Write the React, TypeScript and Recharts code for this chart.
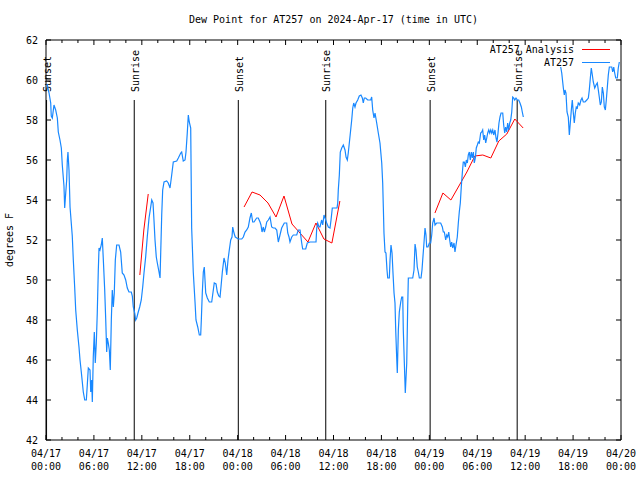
import React from "react";
import { LineChart, Line, XAxis, YAxis, ReferenceLine, ReferenceArea } from "recharts";

const FONT = "'DejaVu Sans Mono', 'Liberation Mono', monospace";
const BLUE = "#1888ff";
const RED = "#ff0000";

// hours since 04/17 00:00 UTC
const obsHours = [
  0.13, 0.38, 0.59, 0.66, 0.79, 1.0, 1.21, 1.42, 1.54, 1.75, 1.92, 2.04, 2.25, 2.34, 2.47, 2.59, 2.67, 2.75, 2.88, 3.01,
  3.29, 3.42, 3.59, 3.72, 3.92, 4.13, 4.26, 4.42, 4.67, 4.85, 5.05, 5.17, 5.3, 5.51, 5.6, 5.72, 5.8, 5.92, 6.05, 6.17,
  6.3, 6.42, 6.55, 6.64, 6.76, 6.92, 7.05, 7.18, 7.35, 7.48, 7.6, 7.68, 7.8, 7.93, 8.05, 8.18, 8.3, 8.43, 8.55, 8.68,
  8.85, 9.14, 9.35, 9.55, 9.77, 9.98, 10.18, 10.39, 10.68, 10.81, 10.93, 11.11, 11.23, 11.36, 11.52, 11.73, 11.93, 12.11, 12.27, 12.48,
  12.68, 12.9, 13.11, 13.24, 13.4, 13.52, 13.65, 13.81, 13.94, 14.15, 14.28, 14.49, 14.61, 14.78, 15.11, 15.31, 15.53, 15.74, 15.94, 16.37,
  16.57, 16.87, 16.99, 17.19, 17.41, 17.53, 17.69, 17.82, 17.94, 18.12, 18.24, 18.44, 18.66, 18.78, 19.0, 19.2, 19.37, 19.45, 19.57, 19.7,
  19.82, 20.0, 20.2, 20.45, 20.75, 20.95, 21.07, 21.29, 21.45, 21.63, 21.79, 21.91, 22.08, 22.29, 22.45, 22.63, 22.79, 22.95, 23.13, 23.29,
  23.38, 23.54, 23.7, 24.08, 24.51, 24.71, 24.92, 25.13, 25.33, 25.54, 25.71, 25.88, 26.05, 26.21, 26.38, 26.58, 26.8, 26.92, 27.05, 27.21,
  27.34, 27.51, 27.64, 27.84, 28.05, 28.26, 28.46, 28.68, 28.89, 29.09, 29.3, 29.51, 29.84, 30.14, 30.27, 30.43, 30.55, 30.77, 30.97, 31.39,
  31.59, 31.81, 32.02, 32.14, 32.52, 32.72, 33.06, 33.81, 33.9, 34.02, 34.19, 34.31, 34.52, 34.65, 34.81, 34.94, 35.15, 35.35, 35.56, 35.69,
  35.85, 36.44, 36.53, 36.6, 36.73, 36.85, 37.03, 37.23, 37.44, 37.57, 37.73, 37.85, 37.98, 38.15, 38.28, 38.41, 38.53, 38.69, 38.82, 39.03,
  39.23, 39.44, 39.61, 39.73, 39.86, 40.03, 40.28, 40.66, 40.78, 40.91, 41.07, 41.2, 41.41, 41.61, 41.82, 42.04, 42.16, 42.24, 42.32, 42.45,
  42.57, 42.7, 42.79, 42.99, 43.08, 43.2, 43.33, 43.45, 43.58, 43.7, 43.79, 43.91, 43.99, 44.12, 44.24, 44.42, 44.54, 44.67, 44.74, 44.87,
  44.99, 45.17, 45.29, 45.37, 45.92, 46.08, 46.21, 46.33, 46.49, 46.62, 46.75, 46.96, 47.08, 47.17, 47.33, 47.46, 47.58, 47.67, 47.83, 48.0,
  48.17, 48.3, 48.42, 48.59, 48.71, 48.92, 49.12, 49.42, 49.63, 49.75, 49.88, 50.05, 50.18, 50.3, 50.43, 50.55, 50.68, 50.8, 50.93, 51.09,
  51.21, 51.34, 51.5, 51.63, 51.75, 51.88, 52.0, 52.13, 52.25, 52.38, 52.51, 52.63, 52.76, 52.88, 53.01, 53.13, 53.26, 53.38, 53.51, 53.63,
  53.76, 53.88, 54.01, 54.13, 54.26, 54.43, 54.56, 54.68, 54.81, 54.93, 55.06, 55.19, 55.31, 55.44, 55.56, 55.69, 55.81, 55.94, 56.06, 56.22,
  56.35, 56.47, 56.6, 56.72, 56.85, 56.98, 57.19, 57.31, 57.44, 57.56, 57.69, 57.81, 57.94, 58.07, 58.19, 58.32, 58.44, 58.57, 58.69, 58.85,
  59.02, 59.19, 59.35, 59.52, 59.64, 59.77, 62.0, 64.45, 64.58, 64.78, 64.9, 64.99, 65.11, 65.24, 65.4, 65.53, 65.65, 65.78, 65.9, 66.03,
  66.15, 66.28, 66.4, 66.53, 66.65, 66.83, 66.99, 67.12, 67.28, 67.49, 67.71, 67.91, 68.03, 68.16, 68.28, 68.41, 68.53, 68.71, 68.87, 69.03,
  69.16, 69.28, 69.41, 69.54, 69.66, 69.79, 69.91, 70.04, 70.16, 70.29, 70.41, 70.54, 70.84, 70.96, 71.09, 71.21, 71.34, 71.54, 71.66, 71.79,
];

// dew point (F); null = missing observations
const obsDewF: (number | null)[] = [
  59.8, 59.35, 58.85, 58.2, 58.1, 58.75, 58.5, 58.1, 57.4, 57.0, 56.6, 55.75, 54.7, 53.6, 54.35, 55.0, 56.0, 56.4, 55.5, 53.65,
  52.2, 51.0, 49.65, 48.5, 47.5, 46.65, 46.0, 45.4, 44.4, 44.0, 44.0, 44.75, 45.6, 45.5, 44.4, 45.0, 43.9, 46.15, 47.4, 45.85,
  46.85, 48.35, 50.5, 51.6, 51.5, 51.75, 52.1, 51.0, 49.5, 48.0, 46.4, 47.1, 46.85, 46.5, 45.5, 48.0, 49.5, 48.65, 49.35, 51.0,
  51.75, 51.75, 51.4, 50.35, 50.25, 50.0, 49.6, 49.4, 49.4, 49.2, 48.65, 48.35, 48.0, 48.1, 48.35, 48.65, 49.0, 49.65, 50.35, 51.15,
  52.15, 53.1, 53.65, 54.0, 53.85, 53.0, 52.0, 51.15, 50.85, 50.4, 50.1, 53.25, 54.5, 54.9, 54.95, 54.85, 54.6, 55.25, 55.9, 55.95,
  56.1, 56.35, 56.4, 55.95, 56.0, 56.4, 57.35, 58.25, 57.9, 57.6, 52.6, 50.4, 48.9, 48.0, 47.65, 47.25, 47.25, 48.0, 49.35, 50.4,
  50.65, 49.35, 49.1, 48.9, 48.9, 49.5, 49.85, 49.8, 49.4, 49.2, 49.15, 49.65, 50.4, 51.1, 50.85, 50.25, 51.0, 51.5, 52.0, 52.15,
  52.65, 52.35, 52.15, 52.05, 52.05, 52.15, 52.4, 52.5, 52.65, 53.1, 53.35, 52.9, 52.9, 53.0, 53.1, 53.1, 52.9, 52.75, 52.4, 52.65,
  52.4, 52.65, 52.9, 53.0, 53.15, 52.65, 52.6, 52.6, 52.5, 51.9, 52.25, 52.6, 52.85, 52.85, 52.35, 52.15, 51.9, 52.15, 52.25, 52.25,
  52.5, 52.5, 51.85, 51.55, 51.55, 51.85, 51.9, 51.9, 52.6, 52.85, 52.65, 52.65, 53.0, 52.75, 53.25, 53.1, 52.85, 52.65, 52.6, 53.0,
  53.6, 53.6, 53.85, 54.5, 55.25, 56.4, 56.6, 56.75, 56.5, 56.15, 56.0, 56.35, 56.85, 57.5, 58.0, 58.6, 58.85, 58.65, 58.85, 59.0,
  59.2, 59.25, 59.1, 58.85, 59.1, 59.1, 59.0, 59.0, 59.15, 58.5, 58.1, 58.35, 57.85, 57.35, 56.85, 55.85, 54.85, 53.65, 52.35, 51.4,
  51.35, 50.5, 50.1, 50.1, 51.0, 51.75, 51.35, 50.35, 49.35, 48.85, 47.5, 46.15, 45.35, 47.5, 48.4, 48.9, 49.15, 49.15, 47.5, 45.85,
  44.35, 45.85, 48.65, 50.1, 50.1, 50.5, 51.8, 51.5, 50.65, 50.4, 50.1, 50.1, 50.5, 51.0, 51.85, 52.6, 52.25, 51.65, 51.65, 51.85,
  51.85, 52.25, 52.85, 53.1, 52.75, 52.85, 52.85, 52.85, 52.65, 52.4, 52.4, 52.0, 52.25, 52.15, 52.4, 52.0, 51.65, 51.9, 51.6, 51.85,
  51.4, 51.75, 52.15, 52.85, 53.4, 53.85, 54.65, 55.35, 55.9, 55.9, 55.65, 56.0, 55.85, 56.25, 56.4, 56.0, 56.4, 56.1, 56.4, 55.85,
  56.1, 56.6, 56.75, 56.9, 56.85, 57.35, 57.4, 57.5, 57.0, 57.25, 56.85, 57.1, 57.35, 57.5, 57.35, 57.5, 57.35, 57.5, 57.25, 57.5,
  57.1, 56.9, 57.35, 57.85, 58.15, 58.35, 58.35, 57.75, 57.35, 57.65, 57.4, 57.85, 57.5, 57.85, 58.0, 58.4, 59.15, 59.1, 59.0, 59.1,
  59.0, 59.0, 58.85, 58.65, 58.4, 58.15, null, 60.65, 60.35, 59.6, 59.25, 59.5, 59.35, 58.4, 58.15, 57.25, 57.85, 58.5, 59.0, 58.35,
  57.85, 58.35, 58.65, 58.6, 58.85, 58.75, 59.0, 59.1, 58.9, 58.9, 59.0, 59.1, 59.5, 60.1, 60.6, 60.25, 59.9, 59.6, 59.75, 59.85,
  59.5, 59.15, 58.75, 58.9, 59.65, 59.35, 58.65, 58.5, 59.0, 59.65, 60.25, 60.65, 60.65, 60.4, 60.65, 60.35, 60.1, 60.1, 60.6, 60.9,
];

const analysisHours = [
  11.75, 12.25, 12.8, 18.0,
  24.8, 25.8, 26.8, 27.8, 28.8, 29.8, 30.8, 31.8, 32.8, 33.8, 34.8, 35.8, 36.8, 42.0,
  48.7, 49.7, 50.7, 51.7, 52.7, 53.7, 54.7, 55.7, 56.7, 57.7, 58.7, 59.75,
];
const analysisDewF: (number | null)[] = [
  50.25, 52.5, 54.3, null,
  53.65, 54.4, 54.25, 53.85, 53.15, 54.2, 52.8, 52.35, 51.9, 52.85, 52.05, 51.85, 53.95, null,
  53.35, 54.35, 54.0, 54.7, 55.4, 56.2, 56.25, 56.1, 56.95, 57.3, 58.05, 57.6,
];

const sunNames = ["Sunset", "Sunrise", "Sunset", "Sunrise", "Sunset", "Sunrise"];
const sunHours = [0.07, 11.05, 24.08, 35.03, 48.1, 59.0];

const xTickHours = [0, 2, 4, 6, 8, 10, 12, 14, 16, 18, 20, 22, 24, 26, 28, 30, 32, 34, 36, 38, 40, 42, 44, 46, 48, 50, 52, 54, 56, 58, 60, 62, 64, 66, 68, 70, 72];
const xLabelDates = ["04/17", "04/17", "04/17", "04/17", "04/18", "04/18", "04/18", "04/18", "04/19", "04/19", "04/19", "04/19", "04/20"];
const xLabelTimes = ["00:00", "06:00", "12:00", "18:00", "00:00", "06:00", "12:00", "18:00", "00:00", "06:00", "12:00", "18:00", "00:00"];
const yTicks = [42, 44, 46, 48, 50, 52, 54, 56, 58, 60, 62];

const PLOT_LEFT = 46;
const PLOT_RIGHT = 621;
const PLOT_TOP = 40;
const PLOT_BOTTOM = 440;

const obsData = obsHours.map((t, i) => ({ t, v: obsDewF[i] }));
const analysisData = analysisHours.map((t, i) => ({ t, v: analysisDewF[i] }));

const textStyle = { fontFamily: FONT, fontSize: 10, fill: "#000" };

function XTick(props: any) {
  const { x, payload } = props;
  const v = payload.value as number;
  const major = v % 6 === 0;
  const len = major ? 5 : 3;
  const idx = v / 6;
  return (
    <g>
      <line x1={x} x2={x} y1={PLOT_BOTTOM} y2={PLOT_BOTTOM - len} stroke="#000" />
      <line x1={x} x2={x} y1={PLOT_TOP} y2={PLOT_TOP + len} stroke="#000" />
      {major && (
        <text x={x} y={457} textAnchor="middle" {...textStyle}>
          {xLabelDates[idx]}
        </text>
      )}
      {major && (
        <text x={x} y={470} textAnchor="middle" {...textStyle}>
          {xLabelTimes[idx]}
        </text>
      )}
    </g>
  );
}

function YTick(props: any) {
  const { y, payload } = props;
  return (
    <g>
      <line x1={PLOT_LEFT} x2={PLOT_LEFT + 5} y1={y} y2={y} stroke="#000" />
      <line x1={PLOT_RIGHT - 5} x2={PLOT_RIGHT} y1={y} y2={y} stroke="#000" />
      <text x={38} y={y + 4} textAnchor="end" {...textStyle}>
        {payload.value}
      </text>
    </g>
  );
}

const sunLabel = (name: string) => (props: any) => {
  const vb = props.viewBox || {};
  const x = vb.x + 4.5;
  const y = vb.y - 8;
  return (
    <text x={x} y={y} transform={`rotate(-90 ${x} ${y})`} textAnchor="start" {...textStyle}>
      {name}
    </text>
  );
};

const yAxisLabel = () => (
  <text x={13} y={240} transform="rotate(-90 13 240)" textAnchor="middle" {...textStyle}>
    degrees F
  </text>
);

const legendItems = [
  { name: "AT257 Analysis", color: RED, y: 50 },
  { name: "AT257", color: BLUE, y: 62.5 },
];

export default function App() {
  return (
    <div style={{ position: "absolute", left: 0, top: 0, width: 640, height: 480, background: "#fff" }}>
      <LineChart width={640} height={480} margin={{ top: 40, right: 19, bottom: 0, left: 6 }}>
        <XAxis
          dataKey="t"
          type="number"
          domain={[0, 72]}
          ticks={xTickHours}
          interval={0}
          tick={XTick}
          tickLine={false}
          axisLine={false}
          height={40}
          allowDataOverflow
        />
        <YAxis
          type="number"
          domain={[42, 62]}
          ticks={yTicks}
          interval={0}
          tick={YTick}
          tickLine={false}
          axisLine={false}
          width={40}
          allowDataOverflow
          label={yAxisLabel}
        />
        {sunHours.map((h, i) => (
          <ReferenceLine
            key={i}
            segment={[
              { x: h, y: 42 },
              { x: h, y: 59 },
            ]}
            stroke="#000"
            strokeWidth={1}
            label={sunLabel(sunNames[i])}
          />
        ))}
        <Line
          data={analysisData}
          dataKey="v"
          type="linear"
          stroke={RED}
          strokeWidth={1}
          dot={false}
          activeDot={false}
          connectNulls={false}
          isAnimationActive={false}
        />
        <Line
          data={obsData}
          dataKey="v"
          type="linear"
          stroke={BLUE}
          strokeWidth={1.2}
          dot={false}
          activeDot={false}
          connectNulls={false}
          isAnimationActive={false}
        />
        <ReferenceArea x1={0} x2={72} y1={42} y2={62} fill="none" stroke="#000" strokeWidth={1} fillOpacity={0} />
      </LineChart>
      <div
        style={{
          position: "absolute",
          left: 0,
          top: 14,
          width: 667,
          textAlign: "center",
          fontFamily: FONT,
          fontSize: 10,
          lineHeight: "12px",
          color: "#000",
        }}
      >
        Dew Point for AT257 on 2024-Apr-17 (time in UTC)
      </div>
      {legendItems.map((item) => (
        <React.Fragment key={item.name}>
          <div
            style={{
              position: "absolute",
              right: 640 - 574,
              top: item.y - 6,
              fontFamily: FONT,
              fontSize: 10,
              lineHeight: "12px",
              color: "#000",
              whiteSpace: "pre",
            }}
          >
            {item.name}
          </div>
          <div
            style={{
              position: "absolute",
              left: 582,
              top: Math.round(item.y) - 1,
              width: 28,
              height: 1,
              background: item.color,
            }}
          />
        </React.Fragment>
      ))}
    </div>
  );
}
